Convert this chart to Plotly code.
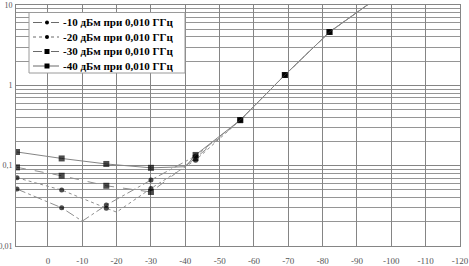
import plotly.graph_objects as go

# ---- data ----
series_names = ["-10 дБм при 0,010 ГГц", "-20 дБм при 0,010 ГГц",
                "-30 дБм при 0,010 ГГц", "-40 дБм при 0,010 ГГц"]

x_m10 = [9, -4, -10, -17, -30, -43, -56, -69, -82, -95]
y_m10 = [0.0511, 0.0299, 0.0204, 0.0323, 0.0662, 0.132, 0.369, 1.344, 4.61, 11.5]

x_m20 = [9, -4, -17, -20, -30, -43, -56, -69, -82, -95]
y_m20 = [0.0707, 0.0497, 0.0296, 0.0264, 0.0520, 0.117, 0.369, 1.344, 4.61, 11.5]

x_m30 = [9, -4, -17, -30, -43, -56, -69, -82, -95]
y_m30 = [0.0953, 0.0749, 0.0562, 0.0470, 0.124, 0.369, 1.344, 4.61, 11.5]

x_m40 = [9, -4, -17, -30, -40, -43, -56, -69, -82, -95]
y_m40 = [0.148, 0.123, 0.105, 0.094, 0.097, 0.136, 0.369, 1.344, 4.61, 11.5]

measured_x = [9, -4, -17, -30, -43, -56, -69, -82]

x_ticks = [0, -10, -20, -30, -40, -50, -60, -70, -80, -90, -100, -110, -120]
y_ticks = [0.01, 0.1, 1, 10]
y_tick_text = ["0,01", "0,1", "1", "10"]

# ---- styling ----
styles = [
    dict(dash="dashdot", symbol="circle", color="#8f8f8f", ms=5),
    dict(dash="dot", symbol="circle", color="#8f8f8f", ms=5),
    dict(dash="dash", symbol="square", color="#8f8f8f", ms=6),
    dict(dash="solid", symbol="square", color="#858585", ms=6),
]
data = [(x_m10, y_m10), (x_m20, y_m20), (x_m30, y_m30), (x_m40, y_m40)]

W_PX, H_PX = 469, 266
L, R, T, B = 16, 9, 5, 20
PW, PH = W_PX - L - R, H_PX - T - B


def px2x(px):
    return (px - L) / PW


def py2y(py):
    return (T + PH - py) / PH


fig = go.Figure()
for name, (xs, ys), st in zip(series_names, data, styles):
    sizes = [st["ms"] if x in measured_x else 0 for x in xs]
    fig.add_trace(go.Scatter(
        x=xs, y=ys, name=name, mode="lines+markers", showlegend=False,
        line=dict(color=st["color"], width=1, dash=st["dash"]),
        marker=dict(symbol=st["symbol"], size=sizes, color="black",
                    line=dict(width=0)),
    ))

# ---- custom legend (box, sample lines, markers, text) ----
shapes = []
annotations = []
box = dict(x0=29, x1=185, y0=12.5, y1=73)
shapes.append(dict(type="rect", xref="paper", yref="paper", layer="above",
                   x0=px2x(box["x0"]), x1=px2x(box["x1"]),
                   y0=py2y(box["y1"]), y1=py2y(box["y0"]),
                   fillcolor="white", line=dict(color="#9a9a9a", width=1)))
row_y = [22.5, 37, 51.5, 66]
for name, st, ry in zip(series_names, styles, row_y):
    shapes.append(dict(type="line", xref="paper", yref="paper", layer="above",
                       x0=px2x(33), x1=px2x(59), y0=py2y(ry), y1=py2y(ry),
                       line=dict(color="#6a6a6a", width=1, dash=st["dash"])))
    r = st["ms"] / 2 - 0.5
    shapes.append(dict(type="circle" if st["symbol"] == "circle" else "rect",
                       xref="paper", yref="paper", layer="above",
                       x0=px2x(47 - r), x1=px2x(47 + r),
                       y0=py2y(ry + r), y1=py2y(ry - r),
                       fillcolor="black", line=dict(width=0)))
    annotations.append(dict(xref="paper", yref="paper", x=px2x(61), y=py2y(ry),
                            xanchor="left", yanchor="middle", showarrow=False,
                            text=name,
                            font=dict(family="Liberation Serif", size=11,
                                      color="black", weight="bold")))

minor_vals = [m * 10.0 ** e for e in range(-2, 1) for m in range(2, 10)]

grid_c = "#858585"
fig.update_layout(
    width=W_PX, height=H_PX,
    margin=dict(l=L, r=R, t=T, b=B, autoexpand=False),
    paper_bgcolor="white", plot_bgcolor="white",
    font=dict(family="Liberation Serif", size=9, color="#555555"),
    showlegend=False,
    shapes=shapes, annotations=annotations,
    xaxis=dict(
        range=[9.3, -120], tickvals=x_ticks, ticktext=[str(v) for v in x_ticks],
        showgrid=True, gridcolor=grid_c, gridwidth=1, automargin=False,
        showline=True, linecolor=grid_c, linewidth=1, mirror=True,
        zeroline=False, ticks="", ticklabelstandoff=6,
    ),
    yaxis=dict(
        type="log", range=[-2, 1], tickvals=y_ticks, ticktext=y_tick_text,
        showgrid=True, gridcolor=grid_c, gridwidth=1, automargin=False,
        showline=True, linecolor=grid_c, linewidth=1, mirror=True,
        zeroline=False, ticks="", ticklabelstandoff=1,
        tickfont=dict(size=8),
        minor=dict(tickvals=minor_vals, showgrid=True, gridcolor="#959595",
                   gridwidth=1, ticks=""),
    ),
)

fig.write_html("out.html")
